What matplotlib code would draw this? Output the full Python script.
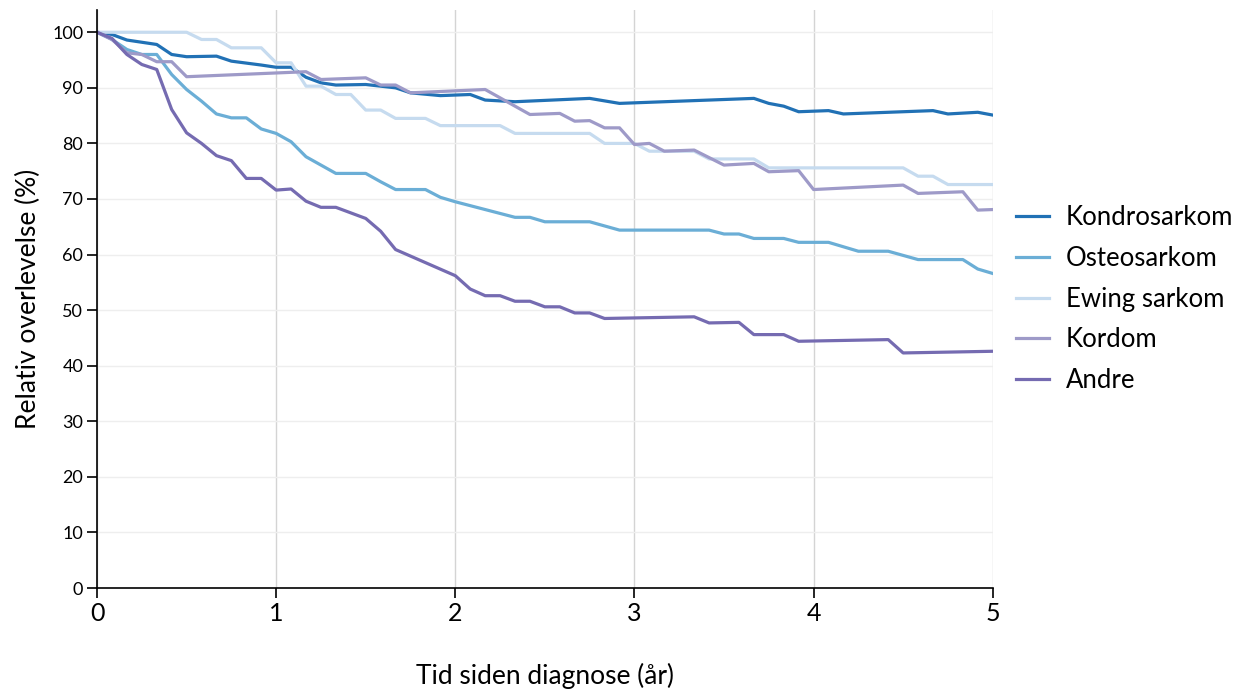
import matplotlib
matplotlib.use("Agg")
import matplotlib.pyplot as plt
import numpy as np

plt.rcParams['font.family'] = ['Lato', 'DejaVu Sans']

# relative survival (%), x in months since diagnosis
kondro_m = [0, 1, 2, 4, 5, 6, 8, 9, 11, 12, 13, 14, 15, 16, 18, 20, 21, 23, 25, 26,
            28, 33, 35, 36, 44, 45, 46, 47, 49, 50, 56, 57, 59, 60]
kondro_v = [100, 99.6, 98.6, 97.8, 96.0, 95.6, 95.7, 94.8, 94.1, 93.7, 93.7, 91.9, 90.9, 90.5,
            90.6, 90.0, 89.1, 88.6, 88.8, 87.8, 87.5, 88.1, 87.2, 87.3, 88.1, 87.2, 86.7, 85.7,
            85.9, 85.3, 85.9, 85.3, 85.6, 85.1]

osteo_m = [0, 1, 2, 3, 4, 5, 6, 7, 8, 9, 10, 11, 12, 13, 14, 15, 16, 18, 19, 20, 22, 23, 24,
           28, 29, 30, 33, 35, 41, 42, 43, 44, 46, 47, 49, 51, 53, 55, 58, 59, 60]
osteo_v = [100, 98.7, 96.9, 96.0, 96.0, 92.4, 89.7, 87.6, 85.3, 84.6, 84.6, 82.6, 81.8, 80.3,
           77.6, 76.1, 74.6, 74.6, 73.1, 71.7, 71.7, 70.3, 69.5, 66.7, 66.7, 65.9, 65.9, 64.4,
           64.4, 63.7, 63.7, 62.9, 62.9, 62.2, 62.2, 60.6, 60.6, 59.1, 59.1, 57.4, 56.6]

ewing_m = [0, 6, 7, 8, 9, 11, 12, 13, 14, 15, 16, 17, 18, 19, 20, 22, 23, 27, 28, 33, 34, 36,
           37, 40, 41, 44, 45, 54, 55, 56, 57, 60]
ewing_v = [100, 100, 98.7, 98.7, 97.2, 97.2, 94.5, 94.5, 90.3, 90.3, 88.8, 88.8, 86.0, 86.0,
           84.5, 84.5, 83.2, 83.2, 81.8, 81.8, 80.0, 80.0, 78.6, 78.6, 77.2, 77.2, 75.6, 75.6,
           74.1, 74.1, 72.6, 72.6]

kordom_m = [0, 1, 2, 3, 4, 5, 6, 14, 15, 18, 19, 20, 21, 26, 29, 31, 32, 33, 34, 35, 36, 37,
            38, 40, 42, 44, 45, 47, 48, 54, 55, 58, 59, 60]
kordom_v = [100, 98.7, 96.3, 96.0, 94.7, 94.7, 92.0, 92.9, 91.5, 91.8, 90.5, 90.5, 89.1, 89.7,
            85.2, 85.4, 84.0, 84.1, 82.8, 82.8, 79.8, 80.0, 78.6, 78.8, 76.1, 76.4, 74.9, 75.1,
            71.7, 72.5, 71.0, 71.3, 68.0, 68.1]

andre_m = [0, 1, 2, 3, 4, 5, 6, 7, 8, 9, 10, 11, 12, 13, 14, 15, 16, 18, 19, 20, 24, 25, 26,
           27, 28, 29, 30, 31, 32, 33, 34, 40, 41, 43, 44, 46, 47, 53, 54, 60]
andre_v = [100, 98.9, 96.0, 94.2, 93.3, 86.1, 81.9, 80.0, 77.8, 76.9, 73.7, 73.7, 71.6, 71.8,
           69.6, 68.5, 68.5, 66.5, 64.2, 60.9, 56.2, 53.8, 52.6, 52.6, 51.6, 51.6, 50.6, 50.6,
           49.5, 49.5, 48.5, 48.8, 47.7, 47.8, 45.6, 45.6, 44.4, 44.7, 42.3, 42.6]

series = [
    ('Kondrosarkom', kondro_m, kondro_v, '#2171b5'),
    ('Osteosarkom', osteo_m, osteo_v, '#6baed6'),
    ('Ewing sarkom', ewing_m, ewing_v, '#c6dbef'),
    ('Kordom', kordom_m, kordom_v, '#9e9ac8'),
    ('Andre', andre_m, andre_v, '#756bb1'),
]

fig = plt.figure(figsize=(12.44, 6.91), dpi=100)
ax = fig.add_axes([0.078, 0.149, 0.72, 0.8365])

for name, m, v, col in series:
    ax.plot(np.array(m) / 12, v, color=col, lw=2.3, label=name, solid_joinstyle='round')

ax.set_xlim(0, 5)
ax.set_ylim(0, 104)
ax.set_xticks(range(0, 6))
ax.set_yticks(range(0, 101, 10))
ax.tick_params(axis='x', labelsize=18, length=7, width=1.2, pad=3)
ax.tick_params(axis='y', labelsize=13, length=7, width=1.2, pad=3)

ax.grid(axis='x', color='#d4d4d4', lw=1)
ax.grid(axis='y', color='#eeeeee', lw=1)
ax.set_axisbelow(True)

for s in ['top', 'right']:
    ax.spines[s].set_visible(False)
for s in ['left', 'bottom']:
    ax.spines[s].set_linewidth(1.2)

ax.set_xlabel('Tid siden diagnose (år)', fontsize=19, labelpad=27)
ax.set_ylabel('Relativ overlevelse (%)', fontsize=19, labelpad=8)

ax.legend(loc='center left', bbox_to_anchor=(1.0, 0.5), frameon=False, fontsize=18.5,
          handlelength=1.3, handletextpad=0.65, labelspacing=0.62)

fig.savefig('out.png', dpi=100)
